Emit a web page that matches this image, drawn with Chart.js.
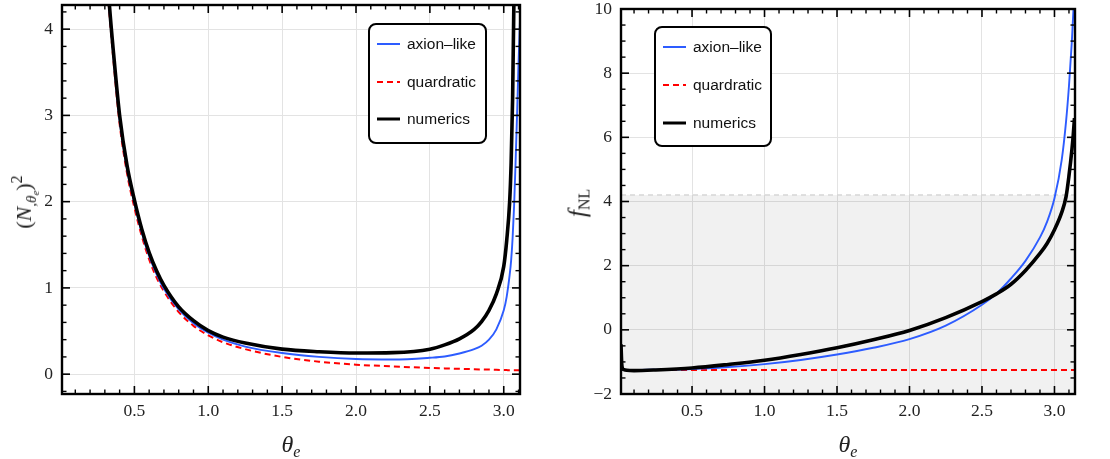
<!DOCTYPE html>
<html>
<head>
<meta charset="utf-8">
<script src="https://cdn.jsdelivr.net/npm/chart.js@4.4.0/dist/chart.umd.min.js"></script>
<style>
html,body{margin:0;padding:0;background:#fff;}
#wrap{position:relative;width:1110px;height:459px;overflow:hidden;background:#fff;}
#wrap canvas{position:absolute;top:0;}
.t{position:absolute;font-family:"Liberation Serif","DejaVu Serif",serif;color:#222;white-space:nowrap;line-height:1;transform:translate(-50%,-50%);}
.t.rot{transform:translate(-50%,-50%) rotate(-90deg);}
.t sub,.t sup{line-height:0;position:relative;vertical-align:baseline;}
</style>
</head>
<body>
<div id="wrap">
  <canvas id="c1" width="555" height="459" style="left:0px"></canvas>
  <canvas id="c2" width="555" height="459" style="left:555px"></canvas>
  <div class="t rot" style="left:24px;top:202px;font-size:22px;">(<i>N</i><sub style="font-size:15px;top:5px;">,<i>θ<sub style="font-size:11px;top:3px;">e</sub></i></sub>)<sup style="font-size:16px;top:-9px;">2</sup></div>
  <div class="t" style="left:291px;top:444px;font-size:24px;"><i>θ<sub style="font-size:16px;top:5px;">e</sub></i></div>
  <div class="t rot" style="left:577px;top:203px;font-size:25px;"><i>f</i><sub style="font-size:16px;top:4px;">NL</sub></div>
  <div class="t" style="left:848px;top:444px;font-size:24px;"><i>θ<sub style="font-size:16px;top:5px;">e</sub></i></div>
</div>
<script>
// ---------------- data ----------------
// Left panel: (N,θe)^2 versus θe
const thetaLeft    = [0.30,0.33,0.36,0.40,0.45,0.50,0.55,0.60,0.65,0.70,0.80,0.90,1.00,1.10,1.25,1.50,1.75,2.00,2.25,2.50,2.60,2.70,2.80,2.85,2.90,2.95,3.00,3.02,3.04,3.05,3.06,3.07,3.08,3.09,3.10,3.11];
const axionLeft    = [5.00,4.25,3.65,2.95,2.38,1.98,1.64,1.37,1.16,0.99,0.75,0.59,0.48,0.40,0.32,0.245,0.20,0.175,0.17,0.19,0.205,0.24,0.29,0.33,0.40,0.52,0.74,0.90,1.15,1.32,1.58,1.95,2.45,3.00,3.60,4.10];
const quadLeft     = [4.90,4.20,3.60,2.90,2.33,1.93,1.60,1.33,1.12,0.96,0.72,0.56,0.45,0.37,0.29,0.20,0.145,0.11,0.09,0.072,0.067,0.062,0.057,0.055,0.053,0.051,0.048,0.047,0.046,0.046,0.045,0.045,0.045,0.044,0.044,0.044];
const numericsLeft = [5.10,4.30,3.70,3.00,2.42,2.02,1.68,1.41,1.20,1.03,0.78,0.62,0.505,0.43,0.36,0.29,0.26,0.245,0.25,0.29,0.34,0.41,0.52,0.61,0.74,0.93,1.25,1.55,2.00,2.45,3.20,4.50,6.00,null,null,null];

// Right panel: f_NL versus θe
const thetaRight    = [0.01,0.015,0.02,0.03,0.05,0.10,0.25,0.50,0.75,1.00,1.25,1.50,1.75,2.00,2.25,2.50,2.60,2.70,2.80,2.90,2.95,3.00,3.05,3.08,3.10,3.12,3.13,3.138];
const axionRight    = [-1.25,-1.25,-1.25,-1.25,-1.25,-1.25,-1.24,-1.22,-1.16,-1.07,-0.94,-0.77,-0.56,-0.29,0.13,0.78,1.13,1.60,2.15,2.88,3.38,4.10,5.30,6.50,7.60,9.00,9.90,10.60];
const quadRight     = [-1.25,-1.25,-1.25,-1.25,-1.25,-1.25,-1.25,-1.25,-1.25,-1.25,-1.25,-1.25,-1.25,-1.25,-1.25,-1.25,-1.25,-1.25,-1.25,-1.25,-1.25,-1.25,-1.25,-1.25,-1.25,-1.25,-1.25,-1.25];
const numericsRight = [-0.45,-1.05,-1.20,-1.24,-1.26,-1.27,-1.25,-1.19,-1.08,-0.95,-0.77,-0.56,-0.31,-0.02,0.38,0.88,1.12,1.42,1.85,2.38,2.70,3.12,3.66,4.15,4.80,5.60,6.10,6.60];
const fnlBoundUpper = 4.2;   // upper edge of the grey band

// series names
const seriesNames = ['axion\u2013like', 'quardratic', 'numerics'];

// axis ticks
const xTickValues      = [0.5, 1.0, 1.5, 2.0, 2.5, 3.0];
const yTickValuesLeft  = [0, 1, 2, 3, 4];
const yTickValuesRight = [-2, 0, 2, 4, 6, 8, 10];

function minorTicks(from, to, step, majors) {
  const out = [];
  for (let k = Math.round(from / step); k * step <= to + 1e-9; k++) {
    const v = +(k * step).toFixed(6);
    if (!majors.some(m => Math.abs(m - v) < 1e-6)) out.push(v);
  }
  return out;
}

// ---------------- plugins ----------------
const frameTicks = {
  id: 'frameTicks',
  afterDraw(chart, args, o) {
    const {ctx, chartArea: a} = chart;
    const xs = chart.scales.x, ys = chart.scales.y;
    ctx.save();
    ctx.strokeStyle = '#000';
    const seg = (x1, y1, x2, y2) => { ctx.beginPath(); ctx.moveTo(x1, y1); ctx.lineTo(x2, y2); ctx.stroke(); };
    const drawX = (vals, len) => vals.forEach(v => {
      const p = xs.getPixelForValue(v);
      if (p < a.left + 1 || p > a.right - 1) return;
      seg(p, a.bottom, p, a.bottom - len); seg(p, a.top, p, a.top + len);
    });
    const drawY = (vals, len) => vals.forEach(v => {
      const p = ys.getPixelForValue(v);
      if (p < a.top + 1 || p > a.bottom - 1) return;
      seg(a.left, p, a.left + len, p); seg(a.right, p, a.right - len, p);
    });
    ctx.lineWidth = 1.6;
    drawX(o.xMajor, 8); drawY(o.yMajor, 8);
    ctx.lineWidth = 1.4;
    drawX(o.xMinor, 4.5); drawY(o.yMinor, 4.5);
    ctx.lineWidth = 2.4;
    ctx.strokeRect(a.left, a.top, a.right - a.left, a.bottom - a.top);
    ctx.restore();
  }
};

const insetLegend = {
  id: 'insetLegend',
  afterDatasetsDraw(chart, args, o) {
    const ctx = chart.ctx, b = o.box;
    ctx.save();
    const r = 7;
    ctx.beginPath();
    ctx.moveTo(b.x + r, b.y);
    ctx.arcTo(b.x + b.w, b.y, b.x + b.w, b.y + b.h, r);
    ctx.arcTo(b.x + b.w, b.y + b.h, b.x, b.y + b.h, r);
    ctx.arcTo(b.x, b.y + b.h, b.x, b.y, r);
    ctx.arcTo(b.x, b.y, b.x + b.w, b.y, r);
    ctx.closePath();
    ctx.fillStyle = '#fff';
    ctx.fill();
    ctx.lineWidth = 2;
    ctx.strokeStyle = '#000';
    ctx.stroke();
    const items = chart.data.datasets.filter(d => d.inLegend).sort((p, q) => p.legendIndex - q.legendIndex);
    items.forEach((d, i) => {
      const y = b.y + o.rowY[i];
      ctx.strokeStyle = d.borderColor;
      ctx.lineWidth = d.legendWidth;
      ctx.setLineDash(d.borderDash || []);
      ctx.beginPath();
      ctx.moveTo(b.x + o.lineX0, y);
      ctx.lineTo(b.x + o.lineX1, y);
      ctx.stroke();
      ctx.setLineDash([]);
      ctx.fillStyle = '#111';
      ctx.font = '15.5px "Liberation Sans", Arial, sans-serif';
      ctx.textBaseline = 'middle';
      ctx.fillText(d.label, b.x + o.textX, y + 1);
    });
    ctx.restore();
  }
};

// ---------------- helpers ----------------
const tickFont = {family: '"Liberation Serif", "DejaVu Serif", serif', size: 17.5, lineHeight: 1};
const BLUE = '#2d5cff', RED = '#ff0000', BLACK = '#000000';

function pts(xs, ys) {
  const out = [];
  xs.forEach((x, i) => { if (ys[i] !== null) out.push({x: x, y: ys[i]}); });
  return out;
}

function curveSets(theta, axion, quad, numerics) {
  const common = {pointRadius: 0, fill: false, cubicInterpolationMode: 'monotone', clip: 0};
  return [
    Object.assign({label: seriesNames[2], data: pts(theta, numerics), borderColor: BLACK, borderWidth: 3.6, order: 0, inLegend: true, legendIndex: 2, legendWidth: 3}, common),
    Object.assign({label: seriesNames[0], data: pts(theta, axion), borderColor: BLUE, borderWidth: 1.9, order: 1, inLegend: true, legendIndex: 0, legendWidth: 2}, common),
    Object.assign({label: seriesNames[1], data: pts(theta, quad), borderColor: RED, borderWidth: 2, borderDash: [6, 4], order: 2, inLegend: true, legendIndex: 1, legendWidth: 2}, common)
  ];
}

function buildOptions(c) {
  return {
    responsive: false,
    animation: false,
    devicePixelRatio: 1,
    layout: {padding: {top: c.padTop, right: c.padRight, left: 0, bottom: 0}},
    plugins: {
      legend: {display: false},
      tooltip: {enabled: false},
      frameTicks: {xMajor: xTickValues, xMinor: c.xMinor, yMajor: c.yTicks, yMinor: c.yMinor},
      insetLegend: c.legend
    },
    scales: {
      x: {
        type: 'linear', min: c.xMin, max: c.xMax,
        afterBuildTicks: s => { s.ticks = xTickValues.map(v => ({value: v})); },
        afterFit: s => { s.height = c.xAxisH; s.paddingLeft = 0; s.paddingRight = 0; },
        grid: {color: '#e3e3e3', lineWidth: 1, drawTicks: false},
        border: {display: false},
        ticks: {padding: 9, color: '#222', font: tickFont, autoSkip: false, maxRotation: 0,
                callback: v => Number(v).toFixed(1)}
      },
      y: {
        type: 'linear', min: c.yMin, max: c.yMax,
        afterBuildTicks: s => { s.ticks = c.yTicks.map(v => ({value: v})); },
        afterFit: s => { s.width = c.yAxisW; s.paddingTop = 0; s.paddingBottom = 0; },
        grid: {color: '#e3e3e3', lineWidth: 1, drawTicks: false},
        border: {display: false},
        ticks: {padding: 9, color: '#222', font: tickFont, autoSkip: false,
                callback: v => (v < 0 ? '\u2212' + Math.abs(v) : String(v))}
      }
    }
  };
}

// ---------------- left chart ----------------
new Chart(document.getElementById('c1'), {
  type: 'line',
  data: {datasets: curveSets(thetaLeft, axionLeft, quadLeft, numericsLeft)},
  options: buildOptions({
    padTop: 5, padRight: 35, xAxisH: 65, yAxisW: 62,
    xMin: 0.01, xMax: 3.11, yMin: -0.23, yMax: 4.28,
    yTicks: yTickValuesLeft,
    xMinor: minorTicks(0.1, 3.1, 0.1, xTickValues),
    yMinor: minorTicks(-0.2, 4.2, 0.2, yTickValuesLeft),
    legend: {box: {x: 369, y: 24, w: 117, h: 119}, rowY: [20, 58, 95], lineX0: 8, lineX1: 31, textX: 38}
  }),
  plugins: [frameTicks, insetLegend]
});

// ---------------- right chart ----------------
const rightSets = curveSets(thetaRight, axionRight, quadRight, numericsRight);
rightSets.push({
  label: 'bound', data: [{x: thetaRight[0], y: fnlBoundUpper}, {x: thetaRight[thetaRight.length - 1], y: fnlBoundUpper}],
  borderColor: '#d6d6d6', borderWidth: 1.5, borderDash: [5, 4], backgroundColor: 'rgba(0,0,0,0.055)',
  fill: 'start', pointRadius: 0, order: 5, inLegend: false, clip: 0
});
new Chart(document.getElementById('c2'), {
  type: 'line',
  data: {datasets: rightSets},
  options: buildOptions({
    padTop: 9, padRight: 35, xAxisH: 65, yAxisW: 66,
    xMin: 0.01, xMax: 3.1416, yMin: -2, yMax: 10,
    yTicks: yTickValuesRight,
    xMinor: minorTicks(0.1, 3.1, 0.1, xTickValues),
    yMinor: minorTicks(-2, 10, 0.5, yTickValuesRight),
    legend: {box: {x: 100, y: 27, w: 116, h: 119}, rowY: [20, 58, 96], lineX0: 8, lineX1: 31, textX: 38}
  }),
  plugins: [frameTicks, insetLegend]
});
</script>
</body>
</html>
